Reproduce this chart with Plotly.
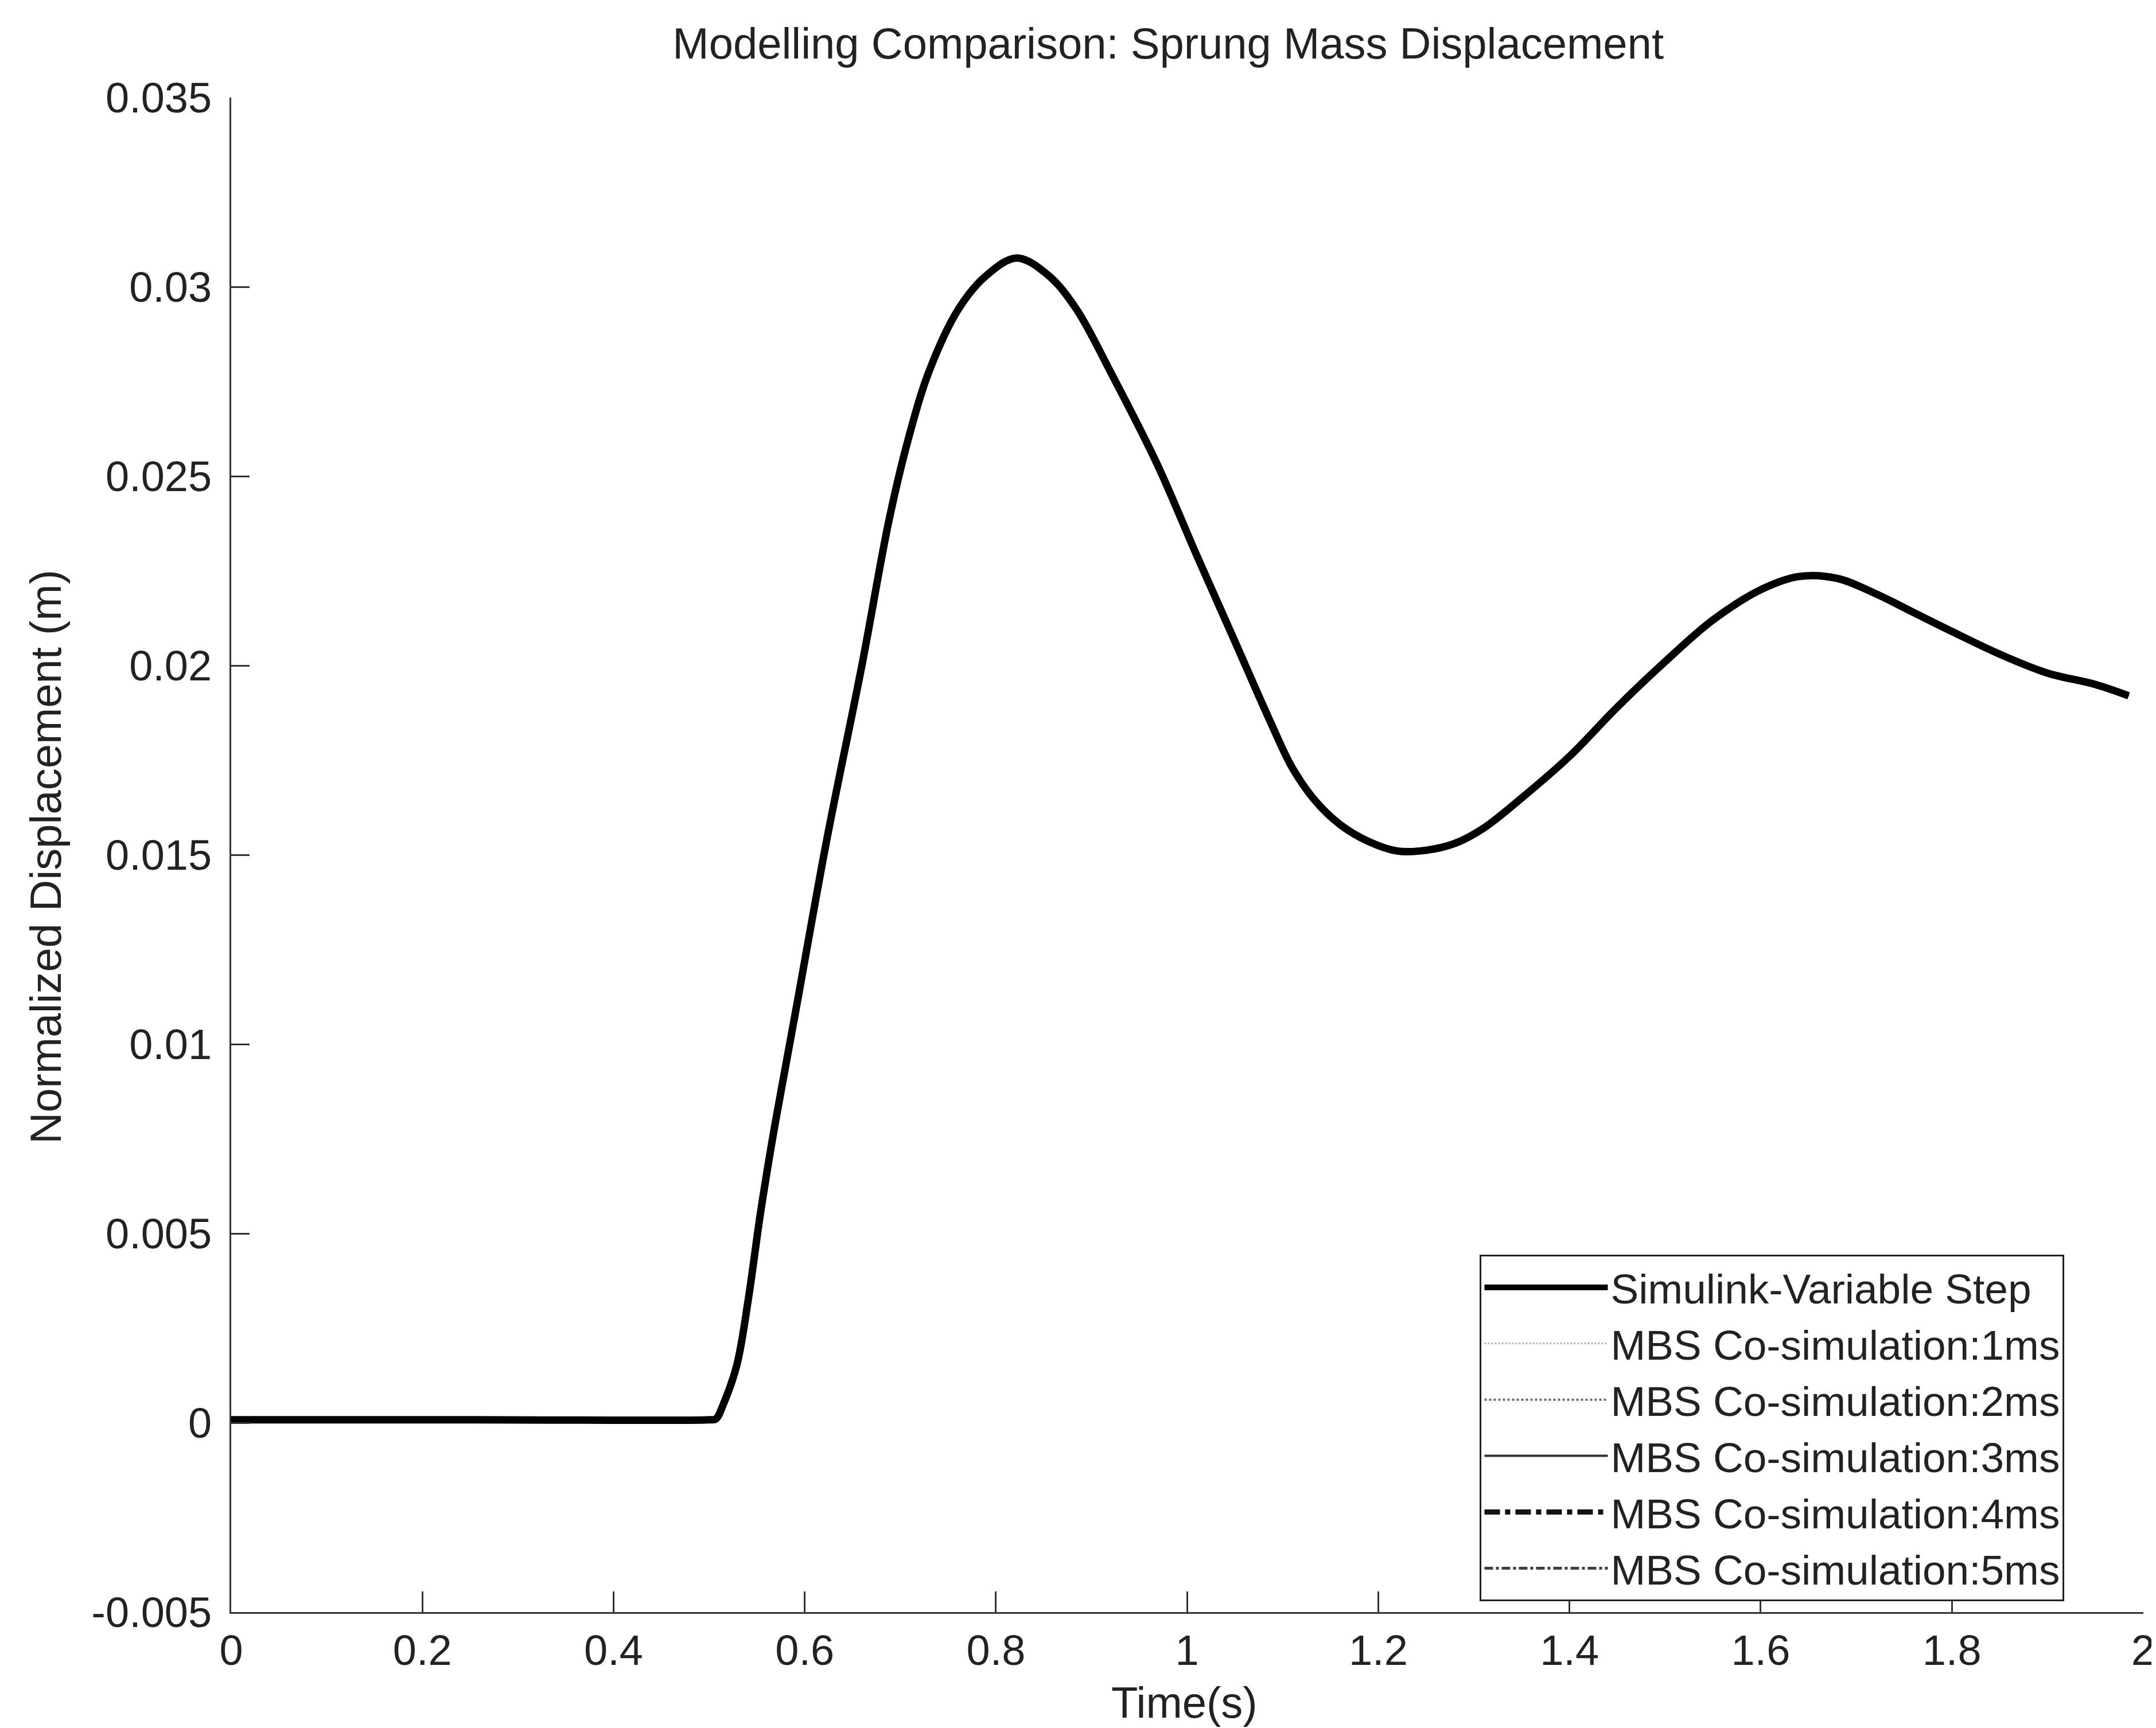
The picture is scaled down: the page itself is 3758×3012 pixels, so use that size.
import plotly.graph_objects as go

# ---- data ----
time_s = [0.0, 0.25, 0.5, 0.507, 0.515, 0.529, 0.541, 0.554, 0.569, 0.591, 0.623,
          0.660, 0.688, 0.708, 0.729, 0.761, 0.790, 0.822, 0.855, 0.884, 0.921,
          0.969, 1.009, 1.048, 1.087, 1.110, 1.135, 1.160, 1.190, 1.220, 1.250,
          1.280, 1.310, 1.350, 1.400, 1.450, 1.500, 1.550, 1.600, 1.640, 1.680,
          1.720, 1.760, 1.800, 1.850, 1.900, 1.950, 1.985]
simulink_disp = [0.00008, 0.00008, 0.00008, 0.0001, 0.0005, 0.00153, 0.00327, 0.00559,
                 0.0079, 0.01094, 0.01539, 0.02003, 0.02382, 0.02595, 0.0277, 0.02942,
                 0.0303, 0.03076, 0.0303, 0.02942, 0.0277, 0.0253, 0.02297, 0.02075,
                 0.01852, 0.0173, 0.0164, 0.0158, 0.01535, 0.0151, 0.01512, 0.0153,
                 0.0157, 0.0165, 0.0176, 0.0189, 0.0201, 0.0212, 0.0220, 0.02235,
                 0.0223, 0.0219, 0.0214, 0.0209, 0.0203, 0.0198, 0.0195, 0.0192]
# the co-simulation curves are indistinguishable from the Simulink one in the picture
mbs_1ms = list(simulink_disp)
mbs_2ms = list(simulink_disp)
mbs_3ms = list(simulink_disp)
mbs_4ms = list(simulink_disp)
mbs_5ms = list(simulink_disp)

series_names = ["Simulink-Variable Step", "MBS Co-simulation:1ms", "MBS Co-simulation:2ms",
                "MBS Co-simulation:3ms", "MBS Co-simulation:4ms", "MBS Co-simulation:5ms"]

x_tick_vals = [0, 0.2, 0.4, 0.6, 0.8, 1.0, 1.2, 1.4, 1.6, 1.8, 2.0]
x_tick_text = ["0", "0.2", "0.4", "0.6", "0.8", "1", "1.2", "1.4", "1.6", "1.8", "2"]
y_tick_vals = [-0.005, 0, 0.005, 0.01, 0.015, 0.02, 0.025, 0.03, 0.035]
y_tick_text = ["-0.005", "0", "0.005", "0.01", "0.015", "0.02", "0.025", "0.03", "0.035"]

FONT = "Liberation Sans, Arial, Helvetica, sans-serif"

styles = [
    dict(color="#000000", width=13, dash="solid"),
    dict(color="#b0b0b0", width=3, dash="dot"),
    dict(color="#707070", width=4, dash="dot"),
    dict(color="#303030", width=4, dash="solid"),
    dict(color="#111111", width=9, dash="dashdot"),
    dict(color="#404040", width=5, dash="dashdot"),
]
ys = [simulink_disp, mbs_1ms, mbs_2ms, mbs_3ms, mbs_4ms, mbs_5ms]

fig = go.Figure()
# draw co-simulation curves first, Simulink last (on top)
draw_order = [1, 2, 3, 4, 5, 0]
for i in draw_order:
    fig.add_trace(go.Scatter(
        x=time_s, y=ys[i], mode="lines", name=series_names[i],
        line=dict(color=styles[i]["color"], width=styles[i]["width"],
                  dash=styles[i]["dash"], shape="spline", smoothing=1.0),
        legendrank=i + 1,
    ))

W, H = 3758, 3012
ml, mr, mt, mb = 395, 30, 162, 210

fig.update_layout(
    width=W, height=H,
    margin=dict(l=ml, r=mr, t=mt, b=mb, autoexpand=False),
    paper_bgcolor="white", plot_bgcolor="white",
    font=dict(family=FONT, size=72, color="#222222"),
    title=dict(text="Modelling Comparison: Sprung Mass Displacement",
               x=0.49, xref="paper", xanchor="center",
               y=1 - 67 / H, yref="container", yanchor="middle",
               font=dict(family=FONT, size=76, color="#222222")),
    showlegend=True,
    legend=dict(x=0.653, y=0.236, xanchor="left", yanchor="top",
                bgcolor="white", bordercolor="#222222", borderwidth=3,
                font=dict(family=FONT, size=73, color="#222222"),
                itemwidth=215, tracegroupgap=0),
)

fig.update_xaxes(
    range=[0, 2.0004], tickvals=x_tick_vals, ticktext=x_tick_text,
    showline=True, linecolor="#333333", linewidth=3, mirror=False,
    ticks="inside", ticklen=36, tickwidth=3, tickcolor="#333333",
    showgrid=False, zeroline=False, ticklabeloverflow="allow",
    tickfont=dict(family=FONT, size=74, color="#222222"),
)
fig.update_yaxes(
    range=[-0.005, 0.035], tickvals=y_tick_vals, ticktext=y_tick_text,
    showline=True, linecolor="#333333", linewidth=3, mirror=False,
    ticks="inside", ticklen=32, tickwidth=3, tickcolor="#333333",
    showgrid=False, zeroline=False, ticklabeloverflow="allow",
    tickfont=dict(family=FONT, size=74, color="#222222"),
    ticklabelstandoff=16,
)

fig.add_annotation(text="Time(s)", xref="paper", yref="paper",
                   x=0.4985, y=-0.0598, xanchor="center", yanchor="middle",
                   showarrow=False, font=dict(family=FONT, size=76, color="#222222"))
fig.add_annotation(text="Normalized Displacement (m)", xref="paper", yref="paper",
                   x=(72 - ml) / (W - ml - mr), y=0.4985, xanchor="center", yanchor="middle",
                   textangle=-90, showarrow=False,
                   font=dict(family=FONT, size=76, color="#222222"))

fig.write_html("out.html")
